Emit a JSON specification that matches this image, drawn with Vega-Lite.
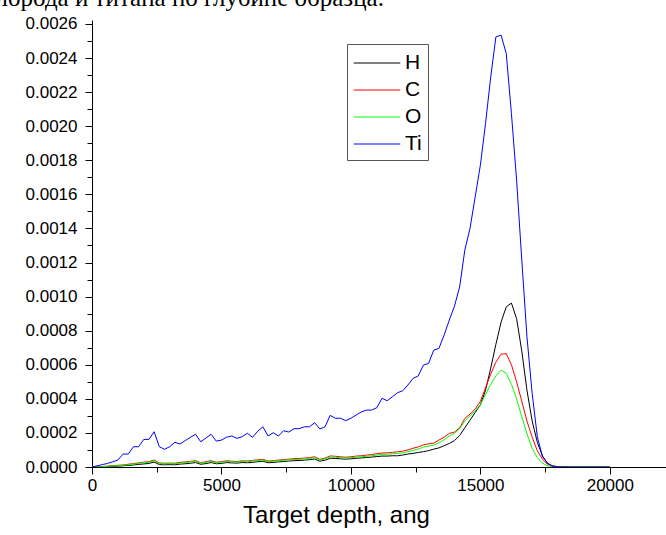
{
  "$schema": "https://vega.github.io/schema/vega-lite/v6.json",
  "width": 574,
  "height": 447,
  "autosize": {"type": "none"},
  "padding": {"left": 92, "top": 20, "right": 0, "bottom": 68},
  "background": "white",
  "title": {
    "text": "кислорода и титана по глубине образца.",
    "anchor": "start",
    "frame": "group",
    "font": "Liberation Serif",
    "fontSize": 25,
    "fontWeight": "normal",
    "color": "black",
    "offset": 0,
    "dx": -133,
    "dy": 16,
    "baseline": "alphabetic"
  },
  "data": {
    "values": [
      {"x": 0, "H": 0, "C": 0, "O": 0, "Ti": 0},
      {"x": 200, "H": 0.5e-6, "C": 1e-6, "O": 0.5e-6, "Ti": 7e-6},
      {"x": 400, "H": 1e-6, "C": 3e-6, "O": 2e-6, "Ti": 14e-6},
      {"x": 600, "H": 2e-6, "C": 5e-6, "O": 4e-6, "Ti": 21e-6},
      {"x": 800, "H": 4e-6, "C": 8e-6, "O": 6e-6, "Ti": 30e-6},
      {"x": 1000, "H": 5e-6, "C": 10e-6, "O": 8e-6, "Ti": 41e-6},
      {"x": 1200, "H": 7e-6, "C": 12e-6, "O": 10e-6, "Ti": 76e-6},
      {"x": 1400, "H": 9e-6, "C": 16e-6, "O": 13e-6, "Ti": 76e-6},
      {"x": 1600, "H": 12e-6, "C": 20e-6, "O": 17e-6, "Ti": 119e-6},
      {"x": 1800, "H": 15e-6, "C": 24e-6, "O": 21e-6, "Ti": 119e-6},
      {"x": 2000, "H": 18e-6, "C": 28e-6, "O": 25e-6, "Ti": 162e-6},
      {"x": 2200, "H": 21e-6, "C": 31e-6, "O": 28e-6, "Ti": 162e-6},
      {"x": 2400, "H": 29e-6, "C": 41e-6, "O": 37e-6, "Ti": 207e-6},
      {"x": 2600, "H": 14e-6, "C": 24e-6, "O": 20e-6, "Ti": 119e-6},
      {"x": 2800, "H": 13e-6, "C": 22e-6, "O": 19e-6, "Ti": 104e-6},
      {"x": 3000, "H": 14e-6, "C": 23e-6, "O": 20e-6, "Ti": 119e-6},
      {"x": 3200, "H": 13e-6, "C": 22e-6, "O": 19e-6, "Ti": 145e-6},
      {"x": 3400, "H": 17e-6, "C": 27e-6, "O": 23e-6, "Ti": 135e-6},
      {"x": 3600, "H": 19e-6, "C": 30e-6, "O": 26e-6, "Ti": 155e-6},
      {"x": 3800, "H": 22e-6, "C": 33e-6, "O": 29e-6, "Ti": 174e-6},
      {"x": 4000, "H": 26e-6, "C": 37e-6, "O": 33e-6, "Ti": 192e-6},
      {"x": 4200, "H": 16e-6, "C": 25e-6, "O": 22e-6, "Ti": 148e-6},
      {"x": 4400, "H": 20e-6, "C": 31e-6, "O": 27e-6, "Ti": 170e-6},
      {"x": 4600, "H": 26e-6, "C": 37e-6, "O": 33e-6, "Ti": 192e-6},
      {"x": 4800, "H": 19e-6, "C": 28e-6, "O": 24e-6, "Ti": 152e-6},
      {"x": 5000, "H": 21e-6, "C": 31e-6, "O": 27e-6, "Ti": 158e-6},
      {"x": 5200, "H": 26e-6, "C": 37e-6, "O": 33e-6, "Ti": 175e-6},
      {"x": 5400, "H": 24e-6, "C": 34e-6, "O": 30e-6, "Ti": 182e-6},
      {"x": 5600, "H": 23e-6, "C": 32e-6, "O": 29e-6, "Ti": 168e-6},
      {"x": 5800, "H": 26e-6, "C": 36e-6, "O": 32e-6, "Ti": 178e-6},
      {"x": 6000, "H": 25e-6, "C": 35e-6, "O": 31e-6, "Ti": 198e-6},
      {"x": 6200, "H": 27e-6, "C": 38e-6, "O": 34e-6, "Ti": 174e-6},
      {"x": 6400, "H": 31e-6, "C": 42e-6, "O": 38e-6, "Ti": 210e-6},
      {"x": 6600, "H": 34e-6, "C": 45e-6, "O": 41e-6, "Ti": 236e-6},
      {"x": 6800, "H": 25e-6, "C": 35e-6, "O": 31e-6, "Ti": 182e-6},
      {"x": 7000, "H": 27e-6, "C": 37e-6, "O": 33e-6, "Ti": 201e-6},
      {"x": 7200, "H": 30e-6, "C": 41e-6, "O": 37e-6, "Ti": 182e-6},
      {"x": 7400, "H": 32e-6, "C": 43e-6, "O": 39e-6, "Ti": 213e-6},
      {"x": 7600, "H": 35e-6, "C": 46e-6, "O": 42e-6, "Ti": 205e-6},
      {"x": 7800, "H": 37e-6, "C": 49e-6, "O": 44e-6, "Ti": 225e-6},
      {"x": 8000, "H": 38e-6, "C": 50e-6, "O": 45e-6, "Ti": 225e-6},
      {"x": 8200, "H": 40e-6, "C": 52e-6, "O": 47e-6, "Ti": 236e-6},
      {"x": 8400, "H": 43e-6, "C": 55e-6, "O": 50e-6, "Ti": 236e-6},
      {"x": 8600, "H": 47e-6, "C": 60e-6, "O": 55e-6, "Ti": 260e-6},
      {"x": 8800, "H": 34e-6, "C": 45e-6, "O": 41e-6, "Ti": 223e-6},
      {"x": 9000, "H": 40e-6, "C": 52e-6, "O": 47e-6, "Ti": 236e-6},
      {"x": 9200, "H": 51e-6, "C": 65e-6, "O": 59e-6, "Ti": 303e-6},
      {"x": 9400, "H": 50e-6, "C": 63e-6, "O": 57e-6, "Ti": 286e-6},
      {"x": 9600, "H": 48e-6, "C": 60e-6, "O": 55e-6, "Ti": 286e-6},
      {"x": 9800, "H": 46e-6, "C": 57e-6, "O": 52e-6, "Ti": 272e-6},
      {"x": 10000, "H": 48e-6, "C": 60e-6, "O": 55e-6, "Ti": 286e-6},
      {"x": 10200, "H": 51e-6, "C": 64e-6, "O": 58e-6, "Ti": 305e-6},
      {"x": 10400, "H": 53e-6, "C": 66e-6, "O": 60e-6, "Ti": 323e-6},
      {"x": 10600, "H": 56e-6, "C": 70e-6, "O": 63e-6, "Ti": 334e-6},
      {"x": 10800, "H": 58e-6, "C": 73e-6, "O": 66e-6, "Ti": 334e-6},
      {"x": 11000, "H": 61e-6, "C": 78e-6, "O": 70e-6, "Ti": 348e-6},
      {"x": 11200, "H": 64e-6, "C": 82e-6, "O": 74e-6, "Ti": 403e-6},
      {"x": 11400, "H": 64e-6, "C": 83e-6, "O": 75e-6, "Ti": 389e-6},
      {"x": 11600, "H": 66e-6, "C": 86e-6, "O": 77e-6, "Ti": 412e-6},
      {"x": 11800, "H": 66e-6, "C": 89e-6, "O": 80e-6, "Ti": 436e-6},
      {"x": 12000, "H": 70e-6, "C": 93e-6, "O": 83e-6, "Ti": 447e-6},
      {"x": 12200, "H": 76e-6, "C": 100e-6, "O": 90e-6, "Ti": 481e-6},
      {"x": 12400, "H": 80e-6, "C": 110e-6, "O": 97e-6, "Ti": 520e-6},
      {"x": 12600, "H": 85e-6, "C": 118e-6, "O": 105e-6, "Ti": 534e-6},
      {"x": 12800, "H": 90e-6, "C": 130e-6, "O": 117e-6, "Ti": 598e-6},
      {"x": 13000, "H": 96e-6, "C": 136e-6, "O": 123e-6, "Ti": 608e-6},
      {"x": 13200, "H": 105e-6, "C": 140e-6, "O": 128e-6, "Ti": 686e-6},
      {"x": 13400, "H": 112e-6, "C": 158e-6, "O": 142e-6, "Ti": 696e-6},
      {"x": 13600, "H": 125e-6, "C": 175e-6, "O": 160e-6, "Ti": 774e-6},
      {"x": 13800, "H": 138e-6, "C": 197e-6, "O": 182e-6, "Ti": 862e-6},
      {"x": 14000, "H": 155e-6, "C": 205e-6, "O": 198e-6, "Ti": 944e-6},
      {"x": 14200, "H": 185e-6, "C": 230e-6, "O": 225e-6, "Ti": 1057e-6},
      {"x": 14400, "H": 230e-6, "C": 285e-6, "O": 270e-6, "Ti": 1273e-6},
      {"x": 14600, "H": 275e-6, "C": 310e-6, "O": 300e-6, "Ti": 1400e-6},
      {"x": 14800, "H": 320e-6, "C": 340e-6, "O": 330e-6, "Ti": 1585e-6},
      {"x": 15000, "H": 365e-6, "C": 385e-6, "O": 365e-6, "Ti": 1771e-6},
      {"x": 15200, "H": 450e-6, "C": 465e-6, "O": 425e-6, "Ti": 2016e-6},
      {"x": 15400, "H": 580e-6, "C": 545e-6, "O": 485e-6, "Ti": 2289e-6},
      {"x": 15600, "H": 720e-6, "C": 615e-6, "O": 535e-6, "Ti": 2524e-6},
      {"x": 15800, "H": 850e-6, "C": 662e-6, "O": 568e-6, "Ti": 2534e-6},
      {"x": 16000, "H": 940e-6, "C": 665e-6, "O": 550e-6, "Ti": 2426e-6},
      {"x": 16200, "H": 962e-6, "C": 600e-6, "O": 485e-6, "Ti": 2074e-6},
      {"x": 16400, "H": 870e-6, "C": 500e-6, "O": 400e-6, "Ti": 1683e-6},
      {"x": 16600, "H": 680e-6, "C": 385e-6, "O": 295e-6, "Ti": 1214e-6},
      {"x": 16800, "H": 450e-6, "C": 270e-6, "O": 195e-6, "Ti": 764e-6},
      {"x": 17000, "H": 270e-6, "C": 175e-6, "O": 110e-6, "Ti": 432e-6},
      {"x": 17200, "H": 145e-6, "C": 95e-6, "O": 55e-6, "Ti": 178e-6},
      {"x": 17400, "H": 65e-6, "C": 45e-6, "O": 22e-6, "Ti": 60e-6},
      {"x": 17600, "H": 20e-6, "C": 15e-6, "O": 7e-6, "Ti": 22e-6},
      {"x": 17800, "H": 6e-6, "C": 5e-6, "O": 2e-6, "Ti": 4e-6},
      {"x": 18000, "H": 2e-6, "C": 2e-6, "O": 0.5e-6, "Ti": 1e-6},
      {"x": 18200, "H": 0.5e-6, "C": 0.5e-6, "O": 0, "Ti": 0},
      {"x": 18400, "H": 0, "C": 0, "O": 0, "Ti": 0},
      {"x": 18600, "H": 0, "C": 0, "O": 0, "Ti": 0},
      {"x": 18800, "H": 0, "C": 0, "O": 0, "Ti": 0},
      {"x": 19000, "H": 0, "C": 0, "O": 0, "Ti": 0},
      {"x": 19200, "H": 0, "C": 0, "O": 0, "Ti": 0},
      {"x": 19400, "H": 0, "C": 0, "O": 0, "Ti": 0},
      {"x": 19600, "H": 0, "C": 0, "O": 0, "Ti": 0},
      {"x": 19800, "H": 0, "C": 0, "O": 0, "Ti": 0},
      {"x": 20000, "H": 0, "C": 0, "O": 0, "Ti": 0}
    ]
  },
  "transform": [{"fold": ["H", "C", "O", "Ti"], "as": ["series", "value"]}],
  "layer": [
    {
      "mark": {"type": "line", "strokeWidth": 1, "clip": true},
      "encoding": {
        "x": {
          "field": "x",
          "type": "quantitative",
          "scale": {"domain": [0, 22170], "nice": false, "zero": false},
          "axis": {
            "orient": "bottom",
            "values": [0, 5000, 10000, 15000, 20000],
            "format": "d",
            "title": "Target depth, ang",
            "labelFontSize": 17,
            "labelPadding": 3,
            "labelFlush": false,
            "tickSize": 7,
            "titleFontSize": 24,
            "titlePadding": 10,
            "titleX": 244,
            "titleAnchor": "middle",
            "titleAlign": "center"
          }
        },
        "y": {
          "field": "value",
          "type": "quantitative",
          "scale": {"domain": [0, 0.002623], "nice": false},
          "axis": {
            "orient": "left",
            "values": [0, 0.0002, 0.0004, 0.0006, 0.0008, 0.001, 0.0012, 0.0014, 0.0016, 0.0018, 0.002, 0.0022, 0.0024, 0.0026],
            "format": ".4f",
            "title": null,
            "labelFontSize": 17,
            "labelPadding": 8,
            "labelFlush": false,
            "tickSize": 7
          }
        },
        "color": {
          "field": "series",
          "type": "nominal",
          "scale": {"domain": ["H", "C", "O", "Ti"], "range": ["#000000", "#ff0000", "#00ff00", "#0000ff"]},
          "legend": {
            "orient": "none",
            "legendX": 255,
            "legendY": 24,
            "title": null,
            "symbolType": "M-1,0H2.8",
            "symbolSize": 600,
            "symbolStrokeWidth": 1,
            "labelFontSize": 21,
            "labelFont": "Liberation Sans",
            "labelColor": "black",
            "labelOffset": 26,
            "strokeColor": "#555555",
            "fillColor": "white",
            "padding": 6,
            "rowPadding": 4
          }
        }
      }
    },
    {
      "mark": {"type": "line", "strokeOpacity": 0},
      "encoding": {
        "x": {
          "field": "x",
          "type": "quantitative",
          "axis": {"orient": "bottom", "values": [2500, 7500, 12500, 17500], "labels": false, "domain": false, "title": null, "tickSize": 5}
        },
        "y": {
          "field": "value",
          "type": "quantitative",
          "axis": {"orient": "left", "values": [0.0001, 0.0003, 0.0005, 0.0007, 0.0009, 0.0011, 0.0013, 0.0015, 0.0017, 0.0019, 0.0021, 0.0023, 0.0025], "labels": false, "domain": false, "title": null, "tickSize": 5}
        },
        "detail": {"field": "series"}
      }
    }
  ],
  "resolve": {"axis": {"x": "independent", "y": "independent"}},
  "config": {
    "view": {"stroke": null},
    "axis": {
      "grid": false,
      "domainColor": "black",
      "domainWidth": 1,
      "tickColor": "black",
      "tickWidth": 1,
      "labelColor": "black",
      "titleColor": "black",
      "labelFont": "Liberation Sans",
      "titleFont": "Liberation Sans",
      "titleFontWeight": "normal"
    }
  }
}
